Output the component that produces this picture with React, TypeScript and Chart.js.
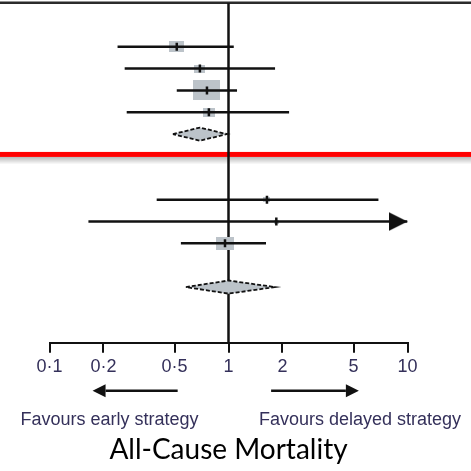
import React, { useEffect, useRef } from 'react';
import { Chart, registerables } from 'chart.js';

Chart.register(...registerables);

// ---- axis ----
const tickValues = [0.1, 0.2, 0.5, 1, 2, 5, 10];
const tickLabels = ['0·1', '0·2', '0·5', '1', '2', '5', '10'];
const xMin = 0.1;
const xMax = 10;
const rowMin = 0;
const rowMax = 15.55;

// ---- individual studies (odds ratios, 95% CI) ----
const studyRows = [2, 3, 4, 5, 9, 10, 11];
const studyEstimates = [0.514, 0.692, 0.758, 0.777, 1.64, 1.85, 0.956];
const studyLower = [0.24, 0.263, 0.514, 0.27, 0.397, 0.165, 0.542];
const studyUpper = [1.07, 1.82, 1.116, 2.18, 6.88, 12, 1.62];
const studyWeights = [12, 6, 40, 8, 2.5, 1.5, 17];

// ---- pooled summaries ----
const summaryRows = [6, 13];
const summaryEstimates = [0.692, 1.0];
const summaryLower = [0.489, 0.578];
const summaryUpper = [0.98, 1.82];

const nullEffect = 1;
const separatorRow = 6.93;

// ---- annotations ----
const favoursLeftArrow = [0.52, 0.174];
const favoursRightArrow = [1.73, 5.35];
const favoursLeft = 'Favours early strategy';
const favoursRight = 'Favours delayed strategy';
const titleText = 'All-Cause Mortality';

const INK = '#111111';
const BOX = '#bcc3c9';
const LABEL = '#34305a';

function makeRect(w: number, h: number, color: string) {
  const c = document.createElement('canvas');
  c.width = Math.max(2, Math.round(w));
  c.height = Math.max(2, Math.round(h));
  const g = c.getContext('2d')!;
  g.fillStyle = color;
  g.fillRect(0, 0, c.width, c.height);
  return c;
}

function makeArrowHead(len: number, h: number, color: string) {
  // tip sits at the centre of the image
  const c = document.createElement('canvas');
  c.width = Math.round(len * 2);
  c.height = Math.round(h);
  const g = c.getContext('2d')!;
  g.fillStyle = color;
  g.beginPath();
  g.moveTo(0, 0);
  g.lineTo(len, h / 2);
  g.lineTo(0, h);
  g.closePath();
  g.fill();
  return c;
}

function drawArrow(ctx: CanvasRenderingContext2D, x0: number, x1: number, y: number) {
  const dir = Math.sign(x1 - x0);
  const head = 13;
  ctx.strokeStyle = INK;
  ctx.lineWidth = 2.5;
  ctx.beginPath();
  ctx.moveTo(x0, y);
  ctx.lineTo(x1 - dir * head, y);
  ctx.stroke();
  ctx.fillStyle = INK;
  ctx.beginPath();
  ctx.moveTo(x1, y);
  ctx.lineTo(x1 - dir * head, y - 6.5);
  ctx.lineTo(x1 - dir * head, y + 6.5);
  ctx.closePath();
  ctx.fill();
}

const decorPlugin = {
  id: 'decor',
  beforeDatasetsDraw(chart: any) {
    const { ctx, chartArea, width } = chart;
    const y = chart.scales.y.getPixelForValue(separatorRow);
    ctx.save();
    const g = ctx.createLinearGradient(0, y + 2.5, 0, y + 10);
    g.addColorStop(0, 'rgba(0,0,0,0.28)');
    g.addColorStop(1, 'rgba(0,0,0,0)');
    ctx.fillStyle = g;
    ctx.fillRect(0, y + 2.5, width, 7.5);
    ctx.fillStyle = '#ff0000';
    ctx.fillRect(0, y - 2.5, width, 5);
    ctx.fillStyle = '#2b2b2b';
    ctx.fillRect(0, chartArea.top - 1.5, width, 2.5);
    ctx.restore();
  },
  afterDraw(chart: any) {
    const { ctx, chartArea } = chart;
    const xs = chart.scales.x;
    ctx.save();
    const ay = chartArea.bottom + 48;
    drawArrow(ctx, xs.getPixelForValue(favoursLeftArrow[0]), xs.getPixelForValue(favoursLeftArrow[1]), ay);
    drawArrow(ctx, xs.getPixelForValue(favoursRightArrow[0]), xs.getPixelForValue(favoursRightArrow[1]), ay);
    ctx.fillStyle = LABEL;
    ctx.font = '18px "Liberation Sans", Arial, sans-serif';
    ctx.textAlign = 'center';
    ctx.textBaseline = 'alphabetic';
    const ty = chartArea.bottom + 82;
    ctx.fillText(favoursLeft, 109.5, ty, 185);
    ctx.fillText(favoursRight, 360, ty, 206);
    ctx.restore();
  },
};

export default function App() {
  const ref = useRef<HTMLCanvasElement>(null);

  useEffect(() => {
    if (!ref.current) return;
    const datasets: any[] = [];

    // estimate tick marks (top-most)
    datasets.push({
      type: 'scatter',
      data: studyEstimates.map((v, i) => ({ x: v, y: studyRows[i] })),
      pointStyle: 'line',
      rotation: 90,
      pointRadius: 4,
      borderWidth: 2.5,
      borderColor: INK,
      order: 1,
    });

    // arrowheads for CIs running off the scale
    const offIdx = studyUpper.map((u, i) => (u > xMax ? i : -1)).filter((i) => i >= 0);
    datasets.push({
      type: 'scatter',
      data: offIdx.map((i) => ({ x: xMax, y: studyRows[i] })),
      pointStyle: makeArrowHead(19, 19, INK),
      pointRadius: 10,
      clip: false,
      order: 2,
    });

    // confidence intervals
    studyRows.forEach((r, i) => {
      datasets.push({
        type: 'line',
        data: [
          { x: studyLower[i], y: r },
          { x: Math.min(studyUpper[i], xMax), y: r },
        ],
        borderColor: INK,
        borderWidth: 2.5,
        pointRadius: 0,
        fill: false,
        order: 3,
      });
    });

    // summary diamonds
    summaryRows.forEach((r, i) => {
      const hh = 0.3;
      datasets.push({
        type: 'line',
        data: [
          { x: summaryLower[i], y: r },
          { x: summaryEstimates[i], y: r - hh },
          { x: summaryUpper[i], y: r },
          { x: summaryEstimates[i], y: r + hh },
          { x: summaryLower[i], y: r },
        ],
        borderColor: '#111111',
        borderWidth: 1.8,
        borderDash: [4, 2],
        backgroundColor: BOX,
        fill: 'shape',
        pointRadius: 0,
        tension: 0,
        order: 4,
      });
    });

    // weight squares
    datasets.push({
      type: 'scatter',
      data: studyEstimates.map((v, i) => ({ x: v, y: studyRows[i] })),
      pointStyle: studyWeights.map((w) => {
        const h = 3.2 * Math.sqrt(w);
        return makeRect(h * 1.35, h, BOX);
      }),
      pointRadius: 6,
      order: 5,
    });

    // line of no effect
    datasets.push({
      type: 'line',
      data: [
        { x: nullEffect, y: rowMin },
        { x: nullEffect, y: rowMax },
      ],
      borderColor: INK,
      borderWidth: 2.5,
      pointRadius: 0,
      order: 10,
    });

    const chart = new Chart(ref.current, {
      type: 'scatter',
      data: { datasets },
      plugins: [decorPlugin],
      options: {
        responsive: false,
        animation: false,
        events: [],
        layout: { autoPadding: false, padding: { left: 49.5, right: 63.5, top: 3, bottom: 4 } },
        plugins: {
          legend: { display: false },
          tooltip: { enabled: false },
          title: {
            display: true,
            text: titleText,
            position: 'bottom',
            color: '#000000',
            font: { family: 'Lato, "Open Sans", sans-serif', size: 28, weight: 'normal' },
            padding: { top: 53, bottom: 0 },
          },
        },
        scales: {
          x: {
            type: 'logarithmic',
            min: xMin,
            max: xMax,
            position: 'bottom',
            afterBuildTicks: (scale: any) => {
              scale.ticks = tickValues.map((v) => ({ value: v }));
            },
            ticks: {
              autoSkip: false,
              maxRotation: 0,
              padding: 3,
              color: LABEL,
              font: { family: '"Liberation Sans", Arial, sans-serif', size: 18 },
              callback: (_v: any, i: number) => tickLabels[i],
            },
            grid: {
              display: true,
              drawOnChartArea: false,
              drawTicks: true,
              tickLength: 10,
              color: INK,
              lineWidth: 2,
            },
            border: { display: true, color: INK, width: 2 },
          },
          y: {
            type: 'linear',
            min: rowMin,
            max: rowMax,
            reverse: true,
            display: false,
          },
        },
      },
    });
    return () => chart.destroy();
  }, []);

  return (
    <div style={{ position: 'absolute', left: 0, top: 0, width: 471, height: 471, background: '#ffffff' }}>
      <canvas ref={ref} width={471} height={471} style={{ display: 'block' }} />
    </div>
  );
}
